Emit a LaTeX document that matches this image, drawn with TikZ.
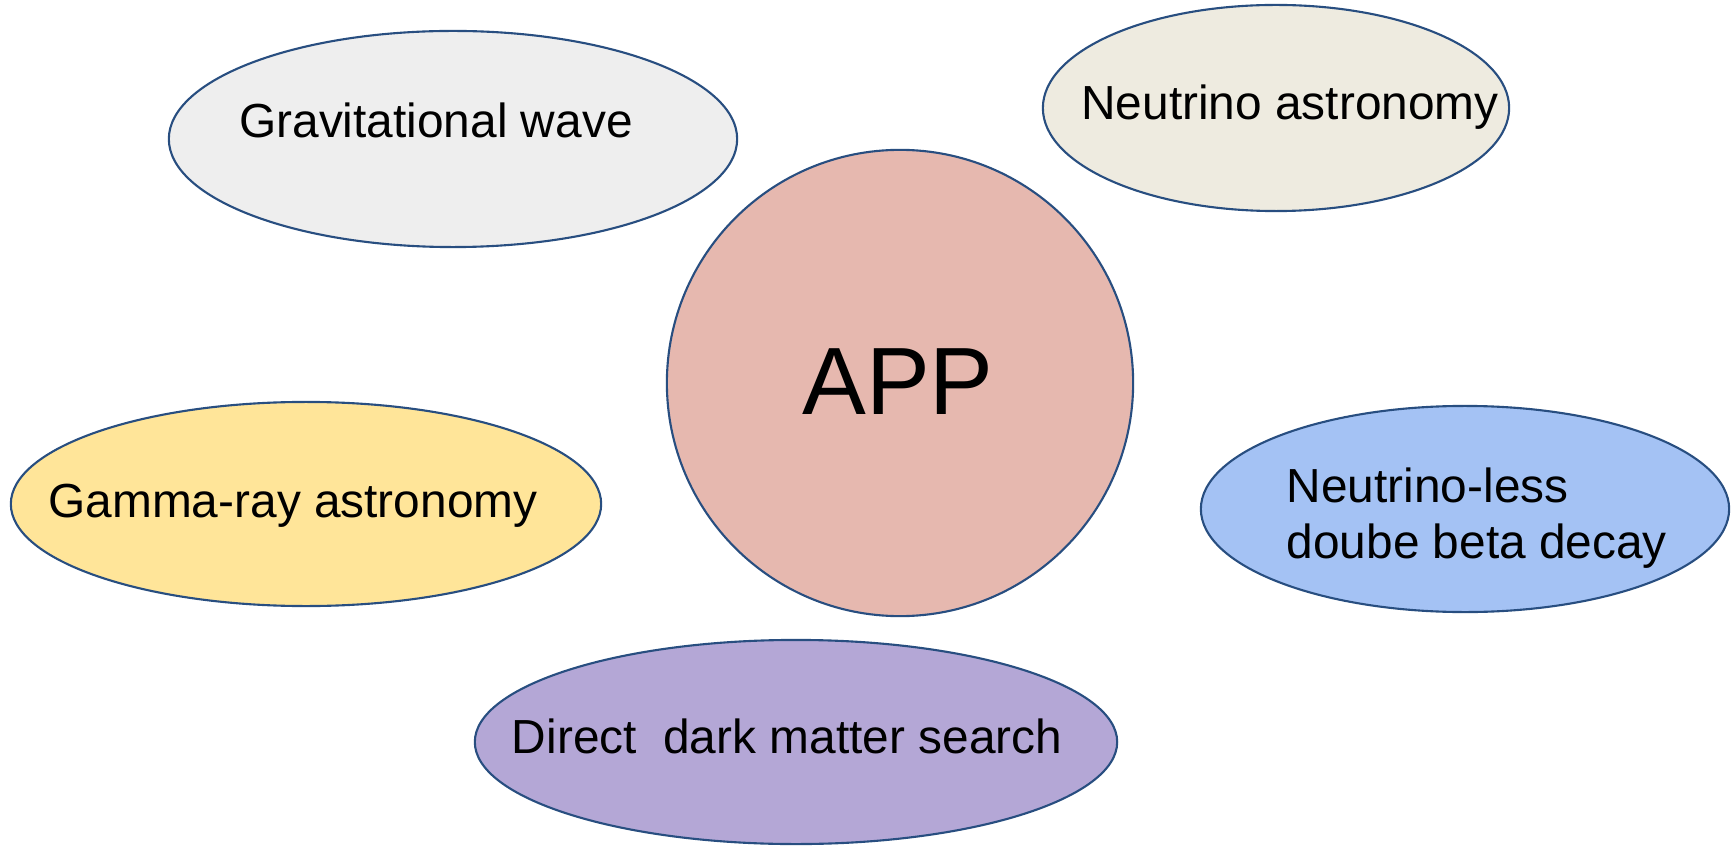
\documentclass[tikz,border=0pt]{standalone}
\usepackage{fontspec}
\setmainfont{Liberation Sans}
\usepackage{tikz}
\usetikzlibrary{shapes.geometric}
\definecolor{rim}{RGB}{40,78,128}
\definecolor{gwfill}{HTML}{EEEEEE}
\definecolor{nafill}{HTML}{EEEBE0}
\definecolor{appfill}{HTML}{E6B8AF}
\definecolor{grfill}{HTML}{FFE599}
\definecolor{nlfill}{HTML}{A4C2F4}
\definecolor{dmfill}{HTML}{B4A7D6}

\begin{document}
\begin{tikzpicture}[x=0.01cm, y=-0.01cm,
  blob/.style={ellipse, draw=rim, line width=0.6pt, inner sep=0pt},
  topic/.style={font=\fontsize{13.6}{15.7}\selectfont, inner sep=0pt, anchor=base}]
  \useasboundingbox (0,0) rectangle (1731,846);
  % centre
  \node[circle, draw=rim, line width=0.6pt, fill=appfill, minimum size=4.66cm] (app) at (900,383) {};
  % fields around it
  \node[blob, fill=gwfill, minimum width=5.68cm, minimum height=2.16cm] (gw) at (453,139) {};
  \node[blob, fill=nafill, minimum width=4.66cm, minimum height=2.06cm] (na) at (1276,108) {};
  \node[blob, fill=grfill, minimum width=5.90cm, minimum height=2.04cm] (gr) at (306,504) {};
  \node[blob, fill=nlfill, minimum width=5.28cm, minimum height=2.06cm] (nl) at (1465,509) {};
  \node[blob, fill=dmfill, minimum width=6.42cm, minimum height=2.04cm] (dm) at (796,742) {};
  % labels
  \node[inner sep=0pt, anchor=base, font=\fontsize{27.2}{30}\selectfont] (apptext) at (898,414) {APP};
  \node[topic] (gwtext) at (436,138) {Gravitational wave};
  \node[topic] (natext) at (1290,120) {Neutrino astronomy};
  \node[topic] (grtext) at (293,517) {Gamma-ray astronomy};
  \node[topic, anchor=base west, align=left] (nltext) at (1286,558) {Neutrino-less\\doube beta decay};
  \node[topic] (dmtext) at (787,753) {Direct\ \ dark matter search};
\end{tikzpicture}
\end{document}
